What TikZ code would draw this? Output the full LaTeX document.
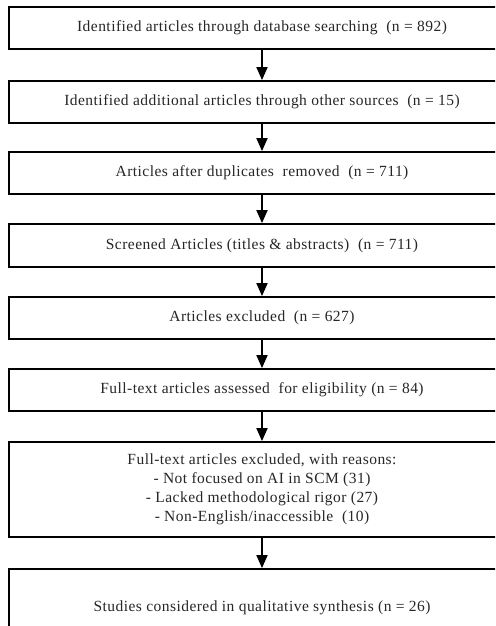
\documentclass[tikz,border=0pt]{standalone}
\usepackage{fontspec}
\setmainfont[LetterSpace=3]{Liberation Serif}
\usetikzlibrary{arrows.meta}
\tikzset{
  flowbox/.style={draw=black, line width=1.8pt, fill=white, minimum width=506pt, inner sep=0pt, align=center, font=\fontsize{15.5}{19}\selectfont, text=black!85},
  flowarrow/.style={line width=1.8pt, -{Triangle[length=13pt,width=11pt]}}
}
\begin{document}
\begin{tikzpicture}[x=1pt,y=-1pt]
\useasboundingbox (0,0) rectangle (495,626);
\clip (0,0) rectangle (495,626);
\fill[white] (0,0) rectangle (495,626);
\node[flowbox, minimum height=42pt] (b1) at (262,28) {Identified articles through database searching\ \ (n = 892)};
\node[flowbox, minimum height=42pt] (b2) at (262,102) {Identified additional articles through other sources\ \ (n = 15)};
\node[flowbox, minimum height=42pt] (b3) at (262,173) {Articles after duplicates\ \ removed\ \ (n = 711)};
\node[flowbox, minimum height=43pt] (b4) at (262,245.5) {Screened Articles (titles \& abstracts)\ \ (n = 711)};
\node[flowbox, minimum height=42pt] (b5) at (262,318) {Articles excluded\ \ (n = 627)};
\node[flowbox, minimum height=42pt] (b6) at (262,390) {Full-text articles assessed\ \ for eligibility (n = 84)};
\node[flowbox, minimum height=95pt] (b7) at (262,489.5) {Full-text articles excluded, with reasons:\\ - Not focused on AI in SCM (31)\\ - Lacked methodological rigor (27)\\ - Non-English/inaccessible\ \ (10)};
\node[flowbox, minimum height=78pt] (b8) at (262,608) {Studies considered in qualitative synthesis (n = 26)};
\draw[flowarrow] (b1.south) -- (b2.north);
\draw[flowarrow] (b2.south) -- (b3.north);
\draw[flowarrow] (b3.south) -- (b4.north);
\draw[flowarrow] (b4.south) -- (b5.north);
\draw[flowarrow] (b5.south) -- (b6.north);
\draw[flowarrow] (b6.south) -- (b7.north);
\draw[flowarrow] (b7.south) -- (b8.north);
\end{tikzpicture}
\end{document}
